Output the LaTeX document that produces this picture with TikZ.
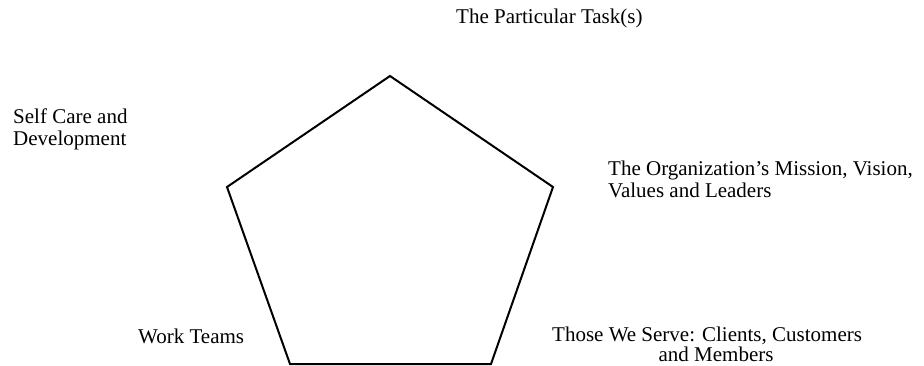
\documentclass[tikz,border=0pt]{standalone}
\usepackage{fontspec}
\setmainfont{Liberation Serif}
\usetikzlibrary{positioning}
\tikzset{
  lbl/.style={inner sep=0pt,font=\fontsize{21}{22}\selectfont,align=left},
  side/.style={line width=2pt,line join=miter},
}

\begin{document}
\begin{tikzpicture}[x=1pt,y=-1pt]
  \useasboundingbox (0,0) rectangle (924,366);
  % corners of the pentagon
  \coordinate (top) at (390,76);
  \coordinate (rgt) at (553,187);
  \coordinate (brt) at (491,364);
  \coordinate (blf) at (290,364);
  \coordinate (lft) at (227,187);
  \draw[side] (top) -- (rgt) -- (brt) -- (blf) -- (lft) -- cycle;
  % the five labels (base = last line)
  \node[lbl,anchor=base west] (task) at (456,24) {The Particular Task(s)};
  \node[lbl,anchor=base west] (self) at (13,146) {Self Care and\\Development};
  \node[lbl,anchor=base west] (org) at (608,198) {The Organization’s Mission, Vision,\\Values and Leaders};
  \node[lbl,align=center,anchor=base west,font=\fontsize{21}{20}\selectfont] (serve) at (552,361) {Those We Serve: Clients, Customers\\\hspace*{18pt}and Members};
  \node[lbl,anchor=base west] (team) at (138,343) {Work Teams};
\end{tikzpicture}
\end{document}
